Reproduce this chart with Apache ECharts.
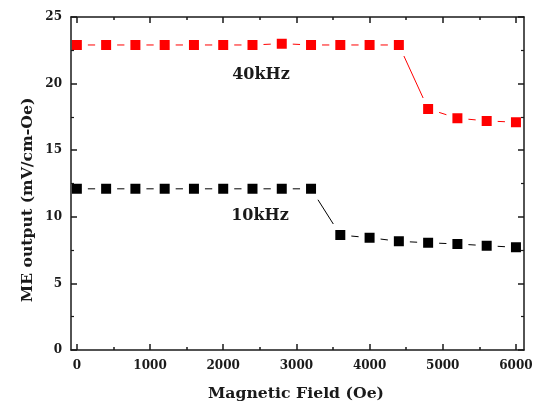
<!DOCTYPE html>
<html><head><meta charset="utf-8">
<script src="https://cdn.jsdelivr.net/npm/echarts@6/dist/echarts.min.js"></script>
<style>html,body{margin:0;padding:0;background:#fff}#c{width:537px;height:407px}</style>
</head><body><div id="c"></div>
<script>
const fieldOe = [0,400,800,1200,1600,2000,2400,2800,3200,3600,4000,4400,4800,5200,5600,6000];
const me40kHz = [22.9,22.9,22.9,22.9,22.9,22.9,22.9,23.0,22.9,22.9,22.9,22.9,18.1,17.4,17.2,17.1];
const me10kHz = [12.1,12.1,12.1,12.1,12.1,12.1,12.1,12.1,12.1,8.63,8.43,8.16,8.05,7.96,7.83,7.71];
const xMajorTicks = [0,1000,2000,3000,4000,5000,6000];
const xMinorTicks = [500,1500,2500,3500,4500,5500];
const xMin = -80, xMax = 6110;
const yMin = 0, yMax = 25, yStep = 5;
const label40 = '40kHz', label10 = '10kHz';
const xTitle = 'Magnetic Field (Oe)', yTitle = 'ME output (mV/cm-Oe)';

const serif = '"DejaVu Serif", serif';
const ink = '#1a1a1a';
function xAx(pos, ticks, len, showLine, showLabel){
  return {type:'value', position:pos, min:xMin, max:xMax, z:5,
    axisLine:{show:showLine, onZero:false, lineStyle:{color:ink, width:1.5}},
    axisTick:{show:true, inside:true, length:len, customValues:ticks, lineStyle:{color:ink, width:1.5}},
    axisLabel:{show:showLabel, customValues:ticks, margin:10, color:ink, fontFamily:serif, fontWeight:'bold', fontSize:12,
      formatter:v => String(v)},
    splitLine:{show:false}};
}
function yAx(pos, showLabel){
  return {type:'value', position:pos, min:yMin, max:yMax, interval:yStep, z:5,
    axisLine:{show:true, onZero:false, lineStyle:{color:ink, width:1.5}},
    axisTick:{show:true, inside:true, length:6, lineStyle:{color:ink, width:1.5}},
    minorTick:{show:true, splitNumber:2, length:3, lineStyle:{color:ink, width:1.2}},
    axisLabel:{show:showLabel, margin:9, color:ink, fontFamily:serif, fontWeight:'bold', fontSize:12},
    splitLine:{show:false}, minorSplitLine:{show:false}};
}
function ser(vals, color){
  return {type:'line', xAxisIndex:0, yAxisIndex:0, data:fieldOe.map((x,i)=>[x,vals[i]]),
    symbol:'rect', symbolSize:16, showSymbol:true,
    itemStyle:{color:color, borderColor:'#fff', borderWidth:6},
    lineStyle:{color:color, width:1}, animation:false, z:2};
}
const chart = echarts.init(document.getElementById('c'));
chart.setOption({
  animation:false,
  grid:{left:71, right:13, top:17, bottom:57},
  xAxis:[xAx('bottom', xMajorTicks, 6, true, true), xAx('bottom', xMinorTicks, 3, false, false),
         xAx('top', xMajorTicks, 6, true, false), xAx('top', xMinorTicks, 3, false, false)],
  yAxis:[yAx('left', true), yAx('right', false)],
  series:[ser(me40kHz, '#ff0000'), ser(me10kHz, '#000000')],
  graphic:[
    {type:'text', x:261, y:75, z:10, style:{text:label40, fontFamily:serif, fontWeight:'bold', fontSize:16, fill:ink, align:'center', verticalAlign:'middle'}},
    {type:'text', x:260, y:216, z:10, style:{text:label10, fontFamily:serif, fontWeight:'bold', fontSize:16, fill:ink, align:'center', verticalAlign:'middle'}},
    {type:'text', x:296, y:394, z:10, style:{text:xTitle, fontFamily:serif, fontWeight:'bold', fontSize:15.7, fill:ink, align:'center', verticalAlign:'middle'}},
    {type:'text', x:28, y:200, rotation:Math.PI/2, z:10, style:{text:yTitle, fontFamily:serif, fontWeight:'bold', fontSize:15.7, fill:ink, align:'center', verticalAlign:'middle'}}
  ]
});
</script></body></html>
